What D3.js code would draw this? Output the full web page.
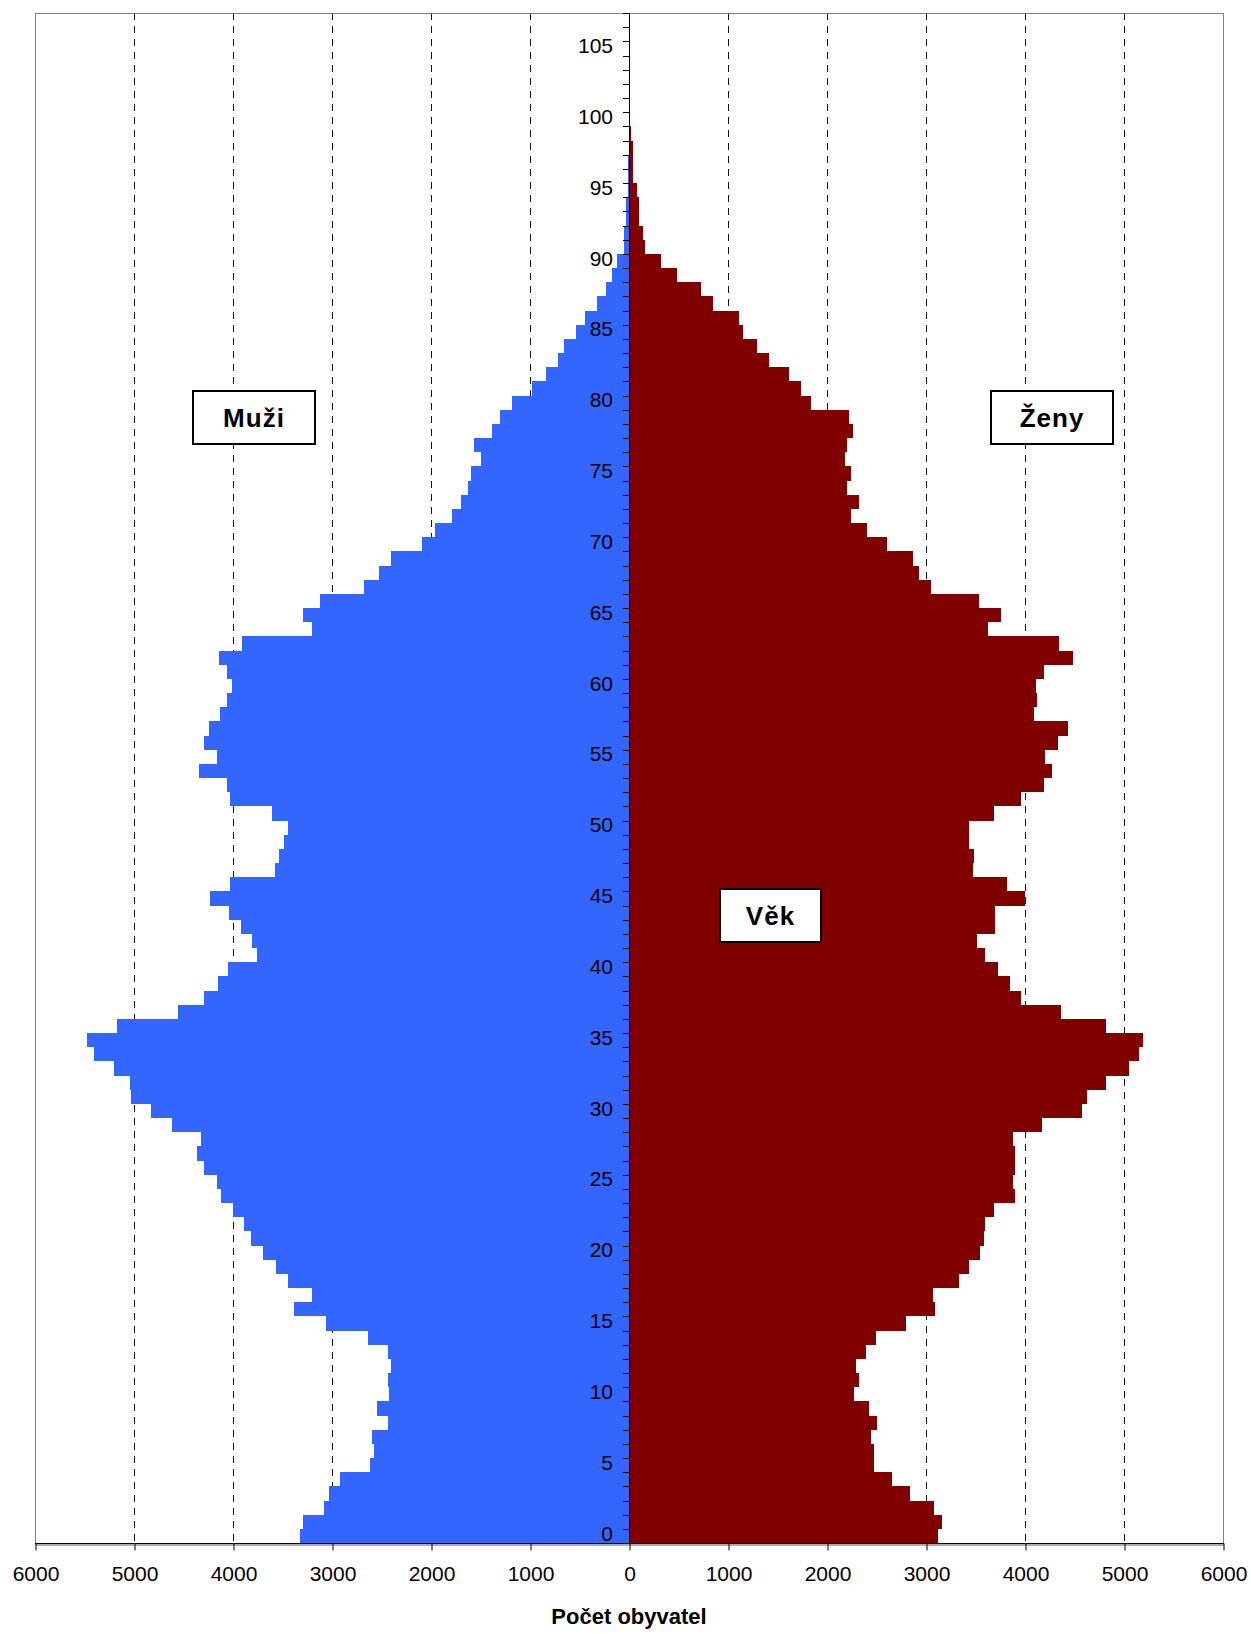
<!DOCTYPE html>
<html>
<head>
<meta charset="utf-8">
<script src="https://cdnjs.cloudflare.com/ajax/libs/d3/7.8.5/d3.min.js"></script>
<style>
body{margin:0;background:#fff;}
text{font-family:Arial,"Liberation Sans",sans-serif;}
</style>
</head>
<body>
<script>
// vek 0..107
var ages = d3.range(0, 108)

var muzi = [3320,3288,3079,3032,2915,2619,2571,2601,2439,2550,
            2429,2439,2409,2439,2641,3056,3379,3197,3449,3561,
            3702,3823,3884,4005,4125,4165,4288,4367,4327,4612,
            4832,5034,5045,5197,5399,5479,5175,4551,4288,4147,
            4046,3754,3804,3916,4044,4228,4027,3571,3540,3481,
            3449,3610,4027,4065,4347,4166,4288,4239,4128,4065,
            4006,4065,4146,3914,3197,3288,3126,2672,2530,2409,
            2086,1955,1783,1702,1631,1601,1490,1561,1379,1298,
            1186,977,843,722,652,540,449,327,236,175,
            125,51,51,34,34,13,13,13,0,0,
            0,0,0,0,0,0,0,0]

var zeny = [3118,3159,3079,2835,2652,2470,2470,2449,2510,2429,
            2268,2328,2288,2389,2490,2793,3090,3070,3330,3430,
            3550,3590,3600,3682,3904,3883,3904,3904,3883,4167,
            4573,4631,4816,5047,5152,5194,4816,4365,3955,3846,
            3723,3601,3520,3702,3702,4005,3823,3470,3480,3439,
            3439,3682,3955,4187,4270,4207,4330,4436,4086,4123,
            4116,4187,4489,4341,3628,3759,3537,3052,2931,2870,
            2608,2406,2244,2325,2204,2244,2184,2204,2264,2224,
            1843,1742,1620,1418,1296,1155,1114,852,731,488,
            327,165,145,104,104,84,44,44,44,24,
            0,0,0,0,0,0,0,0]

var xTicks = [-6000,-5000,-4000,-3000,-2000,-1000,0,1000,2000,3000,4000,5000,6000]
var ageLabels = ages.filter(function(a){ return a % 5 == 0 && a <= 105 })
var boxLabels = ["Muži", "Ženy", "Věk"]

var W = 1251, H = 1634
var pLeft = 35, pRight = 1223, pTop = 13, pBottom = 1543

var svg = d3.select("body").append("svg")
  .attr("width", W)
  .attr("height", H)

var x = d3.scaleLinear().domain([-6000, 6000]).range([pLeft, pRight])
var y = d3.scaleBand().domain(ages).range([pBottom, pTop]).padding(0)
var bw = y.bandwidth()

// svisle carkovane mrizky
svg.selectAll(".grid")
  .data(xTicks.filter(function(d){ return d != 0 && Math.abs(d) < 6000 }))
  .enter().append("line")
  .attr("x1", function(d){ return x(d) + 0.5 })
  .attr("x2", function(d){ return x(d) + 0.5 })
  .attr("y1", pTop)
  .attr("y2", pBottom)
  .attr("stroke", "#111")
  .attr("stroke-width", 1)
  .attr("stroke-dasharray", "7,6")

// muzi
svg.selectAll(".m")
  .data(ages)
  .enter().append("rect")
  .attr("x", function(a){ return x(-muzi[a]) })
  .attr("y", function(a){ return y(a) })
  .attr("width", function(a){ return x(0) - x(-muzi[a]) })
  .attr("height", bw)
  .attr("fill", "#3366FF")
  .attr("shape-rendering", "crispEdges")

// zeny
svg.selectAll(".z")
  .data(ages)
  .enter().append("rect")
  .attr("x", x(0))
  .attr("y", function(a){ return y(a) })
  .attr("width", function(a){ return x(zeny[a]) - x(0) })
  .attr("height", bw)
  .attr("fill", "#800000")
  .attr("shape-rendering", "crispEdges")

// ramecek
svg.append("rect")
  .attr("x", pLeft + 0.5).attr("y", pTop + 0.5)
  .attr("width", pRight - pLeft).attr("height", pBottom - pTop)
  .attr("fill", "none")
  .attr("stroke", "#808080")
  .attr("stroke-width", 1)

// stredova osa
svg.append("line")
  .attr("x1", x(0) + 0.5).attr("x2", x(0) + 0.5)
  .attr("y1", pTop).attr("y2", pBottom)
  .attr("stroke", "#000")

// znacky mezi kategoriemi
var bounds = ages.map(function(a){ return y(a) }).concat([pBottom])
svg.selectAll(".bt")
  .data(bounds)
  .enter().append("line")
  .attr("x1", x(0) - 6).attr("x2", x(0))
  .attr("y1", function(d){ return Math.round(d) + 0.5 })
  .attr("y2", function(d){ return Math.round(d) + 0.5 })
  .attr("stroke", "#000")

svg.selectAll(".al")
  .data(ageLabels)
  .enter().append("text")
  .attr("x", x(0) - 16)
  .attr("y", function(a){ return y(a) + bw / 2 })
  .attr("dy", "0.22em")
  .attr("text-anchor", "end")
  .attr("font-size", 21)
  .text(function(a){ return a })

// spodni osa
svg.append("line")
  .attr("x1", pLeft).attr("x2", pRight + 1)
  .attr("y1", pBottom + 0.5).attr("y2", pBottom + 0.5)
  .attr("stroke", "#000")
svg.append("line")
  .attr("x1", pLeft).attr("x2", pRight + 1)
  .attr("y1", pBottom + 2).attr("y2", pBottom + 2)
  .attr("stroke", "#aaa").attr("stroke-width", 2)

var xAxis = d3.axisBottom(x)
  .tickValues(xTicks)
  .tickFormat(function(d){ return Math.abs(d) })
  .tickSize(7)
  .tickPadding(16)

var gx = svg.append("g")
  .attr("transform", "translate(0.5," + (pBottom + 0.5) + ")")
  .call(xAxis)
gx.select(".domain").remove()
gx.selectAll("text")
  .attr("font-size", 21)
  .attr("font-family", 'Arial,"Liberation Sans",sans-serif')
  .attr("fill", "#000")

svg.append("text")
  .attr("x", x(0))
  .attr("y", 1624)
  .attr("text-anchor", "middle")
  .attr("font-size", 22)
  .attr("font-weight", "bold")
  .text("Počet obyvatel")

// popisky v rameckach
var boxes = [
  {cx: 254, cy: 417.5, w: 122},
  {cx: 1052, cy: 417.5, w: 122},
  {cx: 770.5, cy: 915.5, w: 101}
]
boxes.forEach(function(b, i){
  svg.append("rect")
    .attr("x", b.cx - b.w / 2).attr("y", b.cy - 26.5)
    .attr("width", b.w).attr("height", 53)
    .attr("fill", "#fff")
    .attr("stroke", "#000")
    .attr("stroke-width", 2)
  svg.append("text")
    .attr("x", b.cx)
    .attr("y", b.cy + 9.5)
    .attr("text-anchor", "middle")
    .attr("font-size", 26)
    .attr("font-weight", "bold")
    .attr("letter-spacing", 1)
    .text(boxLabels[i])
})
</script>
</body>
</html>
